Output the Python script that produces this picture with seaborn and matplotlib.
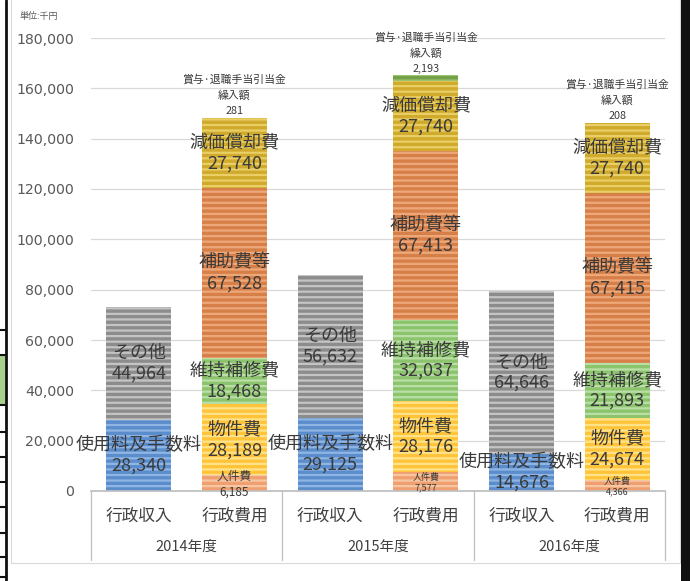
import numpy as np
import pandas as pd
import seaborn as sns
import matplotlib.pyplot as plt
import matplotlib.transforms as mtransforms
from matplotlib.patches import Rectangle
from matplotlib.lines import Line2D

years = ["2014年度", "2015年度", "2016年度"]
kinds = ["行政収入", "行政費用"]

# 行政収入
fees = [28340, 29125, 14676]      # 使用料及手数料
other = [44964, 56632, 64646]     # その他
# 行政費用
personnel = [6185, 7577, 4366]    # 人件費
goods = [28189, 28176, 24674]     # 物件費
upkeep = [18468, 32037, 21893]    # 維持補修費
subsidy = [67528, 67413, 67415]   # 補助費等
deprec = [27740, 27740, 27740]    # 減価償却費
reserve = [281, 2193, 208]        # 賞与・退職手当引当金繰入額

sns.set_theme(style="white")
plt.rcParams['font.family'] = ['Noto Sans CJK JP', 'DejaVu Sans']
plt.rcParams['hatch.linewidth'] = 1.6

bar_ids = [y + "|" + k for y in years for k in kinds]

def spread(vals, kind):
    out = np.zeros(6)
    off = kinds.index(kind)
    for i, v in enumerate(vals):
        out[i * 2 + off] = v
    return out

# name, values, which bar, fill colour, stripe colour, label style
segments = [
    ("使用料及手数料", fees, "行政収入", "#5b8dcc", "#8fb5e3", "big"),
    ("その他", other, "行政収入", "#8c8c8c", "#c4c4c4", "big"),
    ("人件費", personnel, "行政費用", "#f0a070", "#f7c7a3", "small"),
    ("物件費", goods, "行政費用", "#ffc43a", "#ffe38a", "big"),
    ("維持補修費", upkeep, "行政費用", "#8cc46e", "#b9dfa6", "big"),
    ("補助費等", subsidy, "行政費用", "#d77f48", "#eda879", "big"),
    ("減価償却費", deprec, "行政費用", "#cfaa2c", "#e9cf66", "big"),
    ("賞与·退職手当引当金\n繰入額", reserve, "行政費用", "#74a04a", "#9cc46e", "top"),
]

# income and cost stack separately (zeros keep them apart)
heights = [spread(s[1], s[2]) for s in segments]
bottoms = []
acc = np.zeros(6)
for h in heights:
    b = acc.copy()
    b[h == 0] = 0
    bottoms.append(b)
    acc = acc + h

fig = plt.figure(figsize=(6.9, 5.81), dpi=100)
ax = fig.add_axes([91 / 690, 90 / 581, 574 / 690, 453 / 581])

# draw cumulative tops from the highest segment down so lower ones overlay
for s, h, b in reversed(list(zip(segments, heights, bottoms))):
    tops = np.where(h > 0, b + h, 0)
    df = pd.DataFrame({"bar": bar_ids, "top": tops})
    sns.barplot(data=df, x="bar", y="top", order=bar_ids, color=s[3],
                saturation=1, width=0.68, errorbar=None, hatch="---",
                edgecolor=s[4], linewidth=0, ax=ax)

ax.set_ylim(0, 180000)
ax.set_xlim(-0.5, 5.5)
ax.set_yticks(np.arange(0, 180001, 20000))
ax.set_yticklabels([f"{v:,}" for v in range(0, 180001, 20000)],
                   fontsize=10.2, color="#595959", family=['DejaVu Sans'])
ax.grid(axis="y", color="#d9d9d9", linewidth=0.9)
ax.set_axisbelow(True)
ax.set_xticks(range(6))
ax.set_xticklabels(kinds * 3, fontsize=12, color="#404040")
ax.tick_params(axis="both", length=0)
ax.tick_params(axis="x", pad=12)
ax.tick_params(axis="y", pad=12)
ax.set_xlabel("")
ax.set_ylabel("")
for sp in ["top", "right", "left"]:
    ax.spines[sp].set_visible(False)
ax.spines["bottom"].set_color("#bfbfbf")

txt = "#3a3a3a"
small_sizes = [8.5, 6.5, 6.5]
for s, h, b in zip(segments, heights, bottoms):
    for i in range(6):
        if h[i] <= 0:
            continue
        mid = b[i] + h[i] / 2
        label = s[0] + "\n" + f"{int(h[i]):,}"
        if s[5] == "big":
            ax.text(i, mid, label, ha="center", va="center", fontsize=13,
                    color=txt, linespacing=1.2)
        elif s[5] == "small":
            ax.text(i, mid - 400, label, ha="center", va="center",
                    fontsize=small_sizes[i // 2], color=txt, linespacing=1.3)
        else:
            ax.text(i, b[i] + h[i] + 700, label, ha="center", va="bottom",
                    fontsize=7.8, color=txt, linespacing=1.65)

# group separators and year labels below the axis
trans = mtransforms.blended_transform_factory(ax.transData, ax.transAxes)
for x in [-0.5, 1.5, 3.5, 5.5]:
    ax.plot([x, x], [0, -69 / 453], transform=trans, color="#bfbfbf",
            linewidth=0.9, clip_on=False)
for j, y in enumerate(years):
    ax.text(j * 2 + 0.5, -56 / 453, y, transform=trans, ha="center",
            va="center", fontsize=10.5, color="#404040")

fig.text(20 / 690, 1 - 16 / 581, "単位:千円", fontsize=6.5, color="#595959",
         va="center")

# frame and spreadsheet remnants around the chart
fig.add_artist(Rectangle((11 / 690, 18 / 581), 669 / 690, 578 / 581,
                         transform=fig.transFigure, fill=False,
                         edgecolor="#d9d9d9", linewidth=0.8))
fig.add_artist(Rectangle((681 / 690, 0), 9 / 690, 1, transform=fig.transFigure,
                         facecolor="#111111", edgecolor="none"))
fig.add_artist(Rectangle((0, 1 - 405 / 581), 5 / 690, 50 / 581,
                         transform=fig.transFigure, facecolor="#a9d18e",
                         edgecolor="none"))
fig.add_artist(Line2D([6 / 690, 6 / 690], [0, 1], transform=fig.transFigure,
                      color="#111111", linewidth=2))
for yy in [330, 355, 405, 432, 457, 482, 507, 533, 557, 577]:
    fig.add_artist(Line2D([0, 6 / 690], [1 - yy / 581, 1 - yy / 581],
                          transform=fig.transFigure, color="#111111",
                          linewidth=1.5))

fig.savefig("out.png", dpi=100)
